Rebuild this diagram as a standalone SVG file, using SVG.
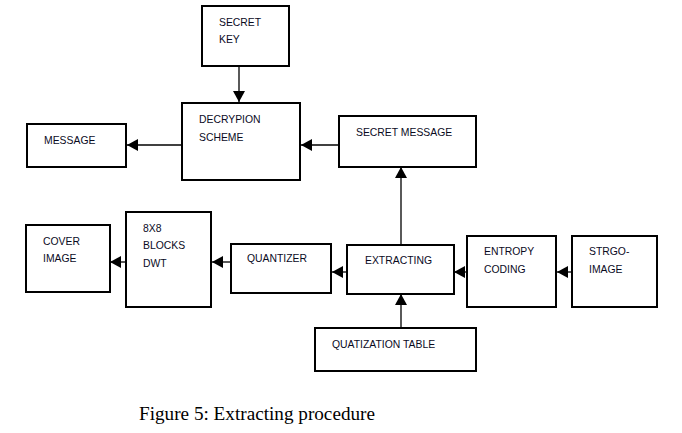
<svg xmlns="http://www.w3.org/2000/svg" width="682" height="433" viewBox="0 0 682 433">
<style>
.box{fill:#fff;stroke:#000;stroke-width:2}
.t{font-family:"Liberation Sans",Arial,sans-serif;font-size:10.4px;fill:#0a0a1e}
.c{stroke:#000;stroke-width:1.3;fill:none}
.cap{font-family:"Liberation Serif","Times New Roman",serif;font-size:18px;fill:#000}
</style>
<defs>
<marker id="ah" markerWidth="11" markerHeight="12" refX="11" refY="6" orient="auto" markerUnits="userSpaceOnUse">
<path d="M0,0 L11,6 L0,12 Z" fill="#000"/>
</marker>
</defs>
<rect width="682" height="433" fill="#fff"/>
<g id="connectors">
<line class="c" x1="239" y1="66" x2="239" y2="102" marker-end="url(#ah)"/>
<line class="c" x1="182" y1="145" x2="127" y2="145" marker-end="url(#ah)"/>
<line class="c" x1="339" y1="145" x2="301" y2="145" marker-end="url(#ah)"/>
<line class="c" x1="401" y1="245" x2="401" y2="167" marker-end="url(#ah)"/>
<line class="c" x1="401" y1="328" x2="401" y2="294" marker-end="url(#ah)"/>
<line class="c" x1="572" y1="272" x2="557" y2="272" marker-end="url(#ah)"/>
<line class="c" x1="467" y1="272" x2="454" y2="272" marker-end="url(#ah)"/>
<line class="c" x1="347" y1="272" x2="332" y2="272" marker-end="url(#ah)"/>
<line class="c" x1="231" y1="262" x2="212" y2="262" marker-end="url(#ah)"/>
<line class="c" x1="126" y1="262" x2="110" y2="262" marker-end="url(#ah)"/>
</g>
<g id="secret-key">
<rect class="box" x="202" y="6" width="87" height="60"/>
<text class="t" x="219" y="26">SECRET</text>
<text class="t" x="219" y="43">KEY</text>
</g>
<g id="decryption">
<rect class="box" x="182" y="103" width="118" height="77"/>
<text class="t" x="199" y="123">DECRYPION</text>
<text class="t" x="199" y="141">SCHEME</text>
</g>
<g id="message">
<rect class="box" x="27" y="124" width="99" height="43"/>
<text class="t" x="44" y="144">MESSAGE</text>
</g>
<g id="secret-message">
<rect class="box" x="339" y="116" width="137" height="51"/>
<text class="t" x="356" y="136">SECRET MESSAGE</text>
</g>
<g id="cover-image">
<rect class="box" x="26" y="225" width="84" height="67"/>
<text class="t" x="43" y="245">COVER</text>
<text class="t" x="43" y="262">IMAGE</text>
</g>
<g id="dwt">
<rect class="box" x="126" y="212" width="85" height="95"/>
<text class="t" x="143" y="232">8X8</text>
<text class="t" x="143" y="249">BLOCKS</text>
<text class="t" x="143" y="267">DWT</text>
</g>
<g id="quantizer">
<rect class="box" x="231" y="244" width="100" height="49"/>
<text class="t" x="247" y="262">QUANTIZER</text>
</g>
<g id="extracting">
<rect class="box" x="347" y="245" width="107" height="49"/>
<text class="t" x="365" y="264">EXTRACTING</text>
</g>
<g id="entropy">
<rect class="box" x="467" y="236" width="89" height="71"/>
<text class="t" x="484" y="255">ENTROPY</text>
<text class="t" x="484" y="273">CODING</text>
</g>
<g id="stego">
<rect class="box" x="572" y="236" width="85" height="71"/>
<text class="t" x="589" y="255">STRGO-</text>
<text class="t" x="589" y="273">IMAGE</text>
</g>
<g id="quantization-table">
<rect class="box" x="315" y="328" width="161" height="43"/>
<text class="t" x="332" y="348">QUATIZATION TABLE</text>
</g>
<text class="cap" x="139" y="420" textLength="236" lengthAdjust="spacingAndGlyphs">Figure 5: Extracting procedure</text>
</svg>
